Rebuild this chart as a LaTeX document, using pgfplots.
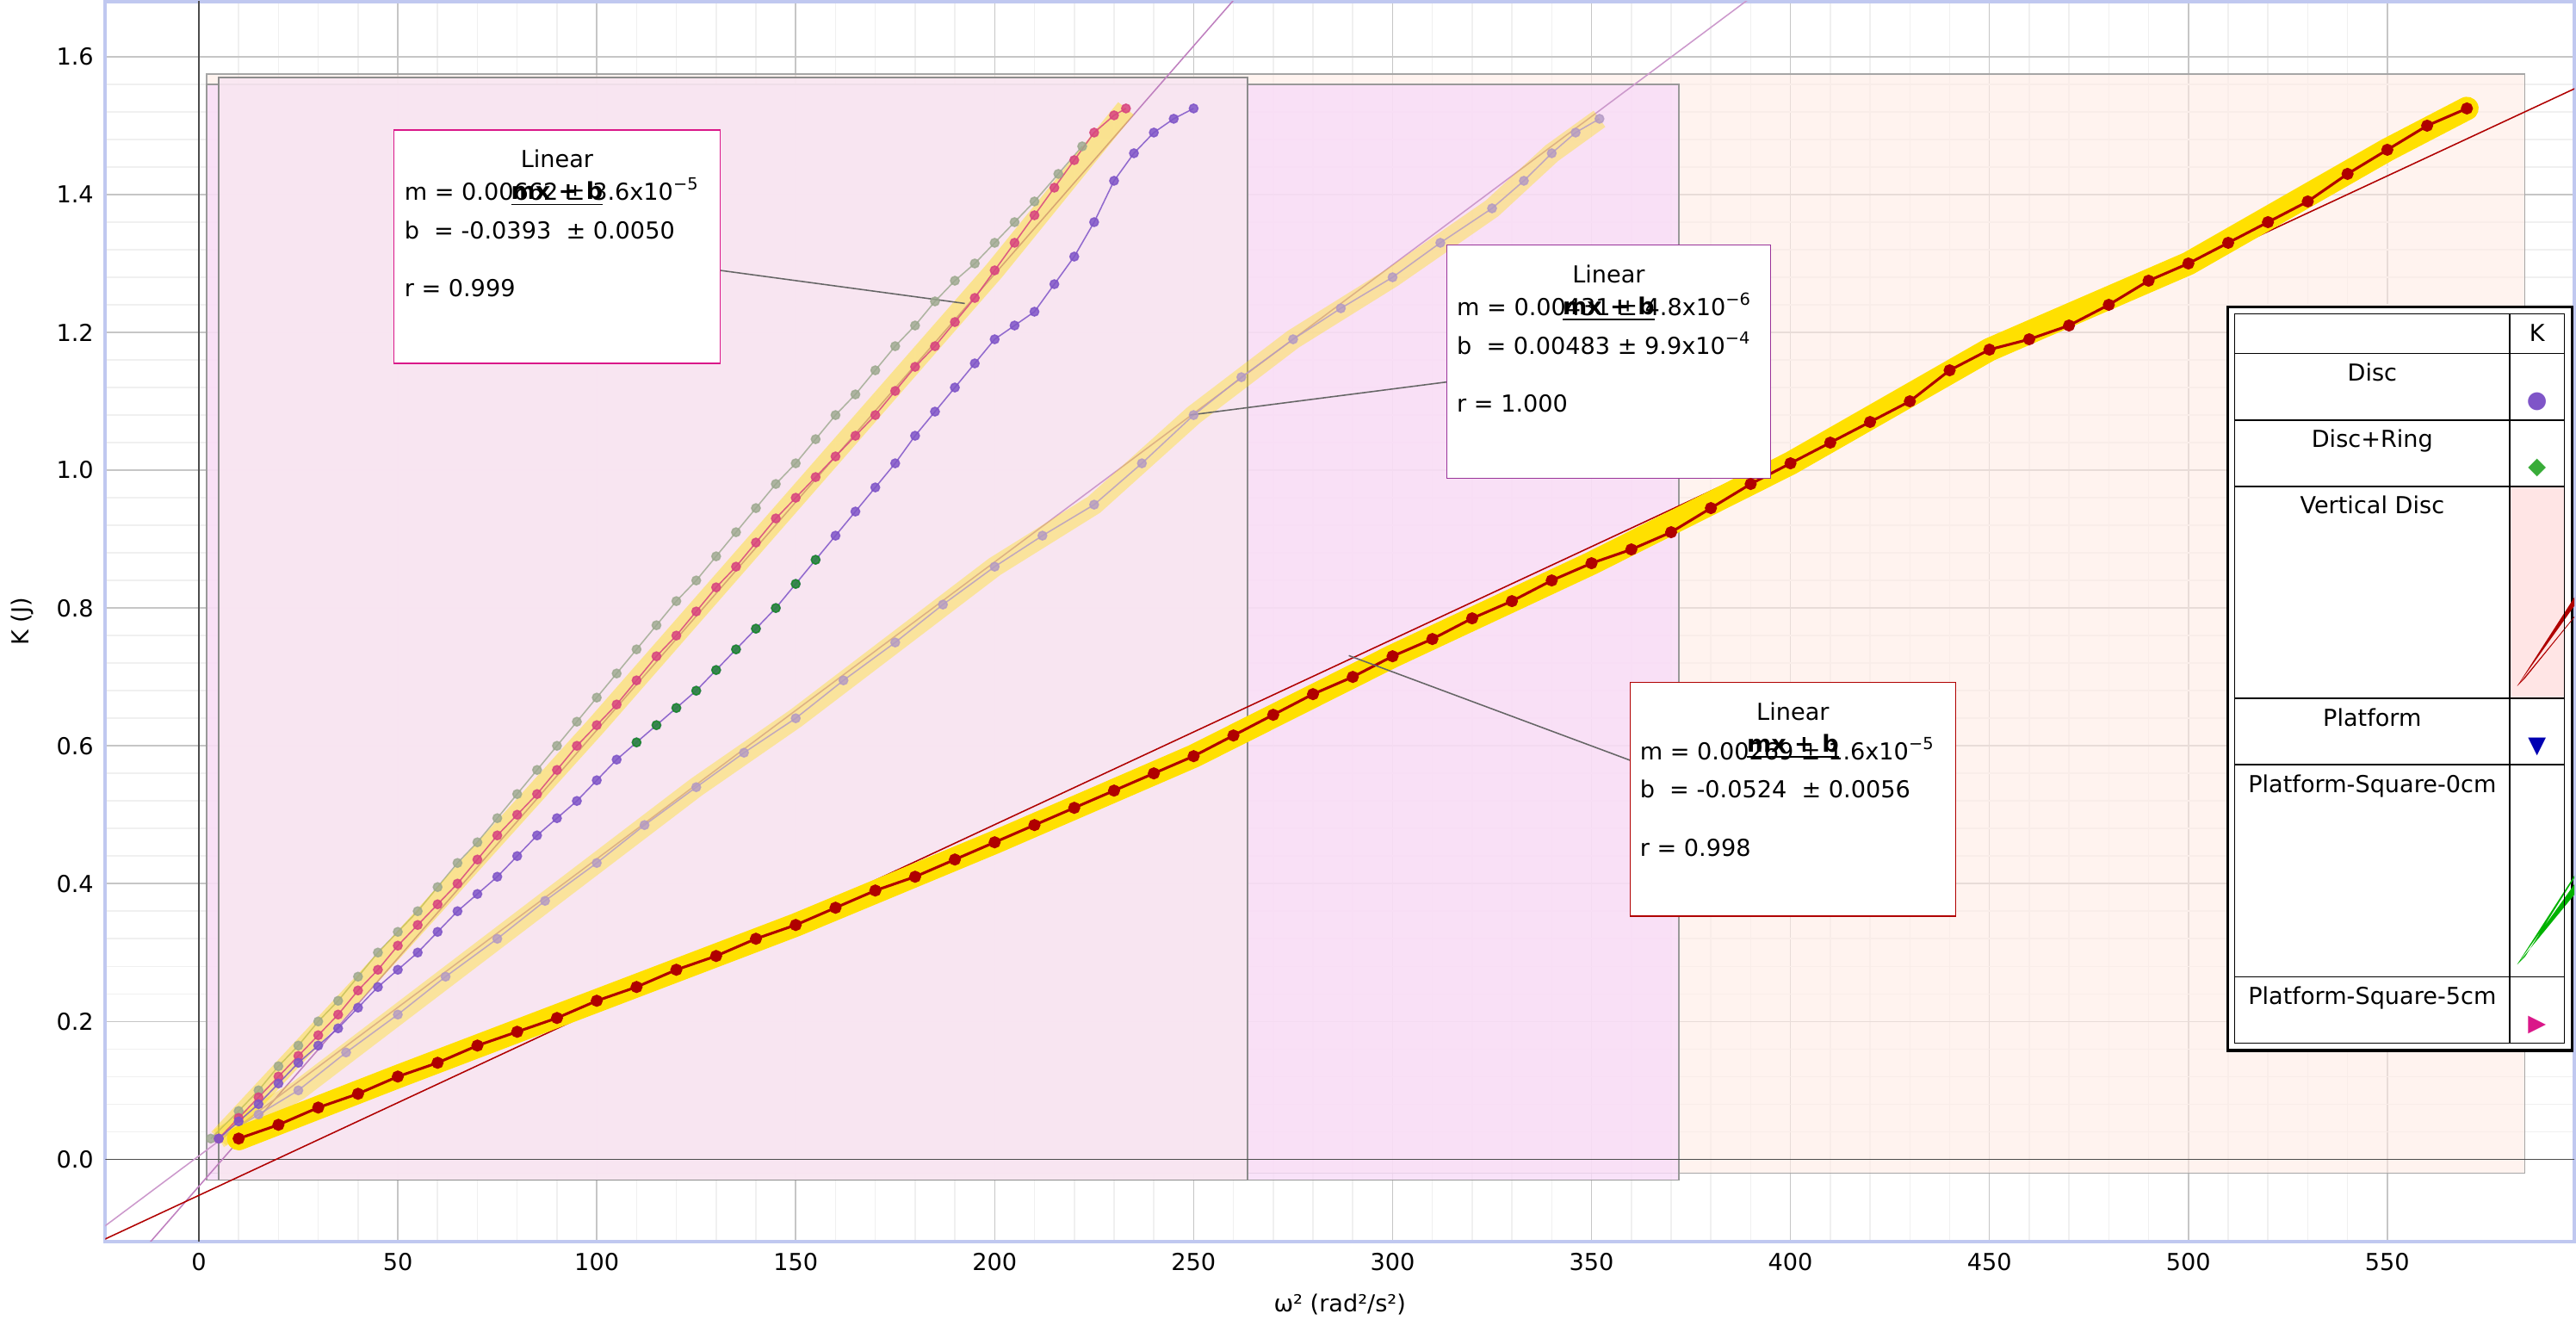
\documentclass[border=0pt]{standalone}
\usepackage{pgfplots}
\pgfplotsset{compat=1.18}
\usepackage{fontspec}
\setmainfont{DejaVu Sans}
\usepackage{array}
\usepackage{colortbl}
\definecolor{vd}{HTML}{B00000}
\definecolor{pu}{HTML}{7F55C8}
\definecolor{gg}{HTML}{9CA88E}
\definecolor{pk}{HTML}{D8457F}
\definecolor{lv}{HTML}{B39AC4}
\definecolor{hal}{HTML}{FFE000}
\definecolor{ab}{HTML}{C0C8F0}
\begin{document}
\begin{tikzpicture}[font=\fontsize{7}{8.5}\selectfont]
\begin{axis}[scale only axis, width=740pt, height=371.5pt,
 xmin=-23.5, xmax=597, ymin=-0.119, ymax=1.68,
 xtick={0,50,...,550}, ytick={0,0.2,...,1.6},
 yticklabel style={/pgf/number format/fixed,/pgf/number format/fixed zerofill,/pgf/number format/precision=1},
 /pgf/number format/assume math mode=true,
 minor x tick num=4, minor y tick num=4,
 grid=both, major grid style={gray!45}, minor grid style={gray!12},
 axis line style={ab, line width=1pt}, tick style={draw=none},
 xlabel={ω² (rad²/s²)}, ylabel={K (J)},
 clip=true]
% shaded regions
\fill[orange!40!red!10, opacity=0.6] (axis cs:2,-0.02) rectangle (axis cs:584.5,1.575);
\draw[gray!70] (axis cs:2,-0.02) rectangle (axis cs:584.5,1.575);
\fill[violet!40!magenta!14, opacity=0.8] (axis cs:2,-0.03) rectangle (axis cs:372,1.56);
\draw[gray!80] (axis cs:2,-0.03) rectangle (axis cs:372,1.56);
\fill[magenta!60!violet!10, opacity=0.9] (axis cs:5,-0.03) rectangle (axis cs:263.5,1.57);
\draw[gray!90] (axis cs:5,-0.03) rectangle (axis cs:263.5,1.57);
\draw[black!70] (axis cs:0,-0.2) -- (axis cs:0,1.8);
\draw[black!70] (axis cs:-30,0) -- (axis cs:600,0);
% fit lines
\addplot[violet!50, thin, domain=-30:300, samples=2] {0.00662*x-0.0393};
\addplot[violet!40, thin, domain=-30:400, samples=2] {0.00431*x+0.00483};
\addplot[vd, thin, domain=-30:600, samples=2] {0.00269*x-0.0524};
% lavender series
\addplot[hal, opacity=0.35, line width=6pt] coordinates {(5,.03)(25,.10)(50,.21)(75,.32)(100,.43)(125,.54)(150,.64)(175,.75)(200,.86)(225,.95)(250,1.08)(275,1.19)(300,1.28)(325,1.38)(340,1.46)(352,1.51)};
\addplot[lv, mark=*, mark size=1.3pt, opacity=0.8] coordinates {(5,.03)(15,.065)(25,.10)(37,.155)(50,.21)(62,.265)(75,.32)(87,.375)(100,.43)(112,.485)(125,.54)(137,.59)(150,.64)(162,.695)(175,.75)(187,.805)(200,.86)(212,.905)(225,.95)(237,1.01)(250,1.08)(262,1.135)(275,1.19)(287,1.235)(300,1.28)(312,1.33)(325,1.38)(333,1.42)(340,1.46)(346,1.49)(352,1.51)};
% gray-green series
\addplot[gg, mark=*, mark size=1.3pt, opacity=0.8] coordinates {(3,.03)(10,.07)(15,.10)(20,.135)(25,.165)(30,.2)(35,.23)(40,.265)(45,.30)(50,.33)(55,.36)(60,.395)(65,.43)(70,.46)(75,.495)(80,.53)(85,.565)(90,.60)(95,.635)(100,.67)(105,.705)(110,.74)(115,.775)(120,.81)(125,.84)(130,.875)(135,.91)(140,.945)(145,.98)(150,1.01)(155,1.045)(160,1.08)(165,1.11)(170,1.145)(175,1.18)(180,1.21)(185,1.245)(190,1.275)(195,1.30)(200,1.33)(205,1.36)(210,1.39)(216,1.43)(222,1.47)};
% pink series
\addplot[hal, opacity=0.4, line width=6pt] coordinates {(5,.03)(50,.31)(100,.63)(150,.96)(200,1.29)(233,1.525)};
\addplot[pk, mark=*, mark size=1.3pt, opacity=0.85] coordinates {(5,.03)(10,.06)(15,.09)(20,.12)(25,.15)(30,.18)(35,.21)(40,.245)(45,.275)(50,.31)(55,.34)(60,.37)(65,.40)(70,.435)(75,.47)(80,.50)(85,.53)(90,.565)(95,.60)(100,.63)(105,.66)(110,.695)(115,.73)(120,.76)(125,.795)(130,.83)(135,.86)(140,.895)(145,.93)(150,.96)(155,.99)(160,1.02)(165,1.05)(170,1.08)(175,1.115)(180,1.15)(185,1.18)(190,1.215)(195,1.25)(200,1.29)(205,1.33)(210,1.37)(215,1.41)(220,1.45)(225,1.49)(230,1.515)(233,1.525)};
% Disc purple
\addplot[pu, mark=*, mark size=1.3pt, opacity=0.85] coordinates {(5,.03)(10,.055)(15,.08)(20,.11)(25,.14)(30,.165)(35,.19)(40,.22)(45,.25)(50,.275)(55,.30)(60,.33)(65,.36)(70,.385)(75,.41)(80,.44)(85,.47)(90,.495)(95,.52)(100,.55)(105,.58)(110,.605)(115,.63)(120,.655)(125,.68)(130,.71)(135,.74)(140,.77)(145,.80)(150,.835)(155,.87)(160,.905)(165,.94)(170,.975)(175,1.01)(180,1.05)(185,1.085)(190,1.12)(195,1.155)(200,1.19)(205,1.21)(210,1.23)(215,1.27)(220,1.31)(225,1.36)(230,1.42)(235,1.46)(240,1.49)(245,1.51)(250,1.525)};
% green 0cm segment
\addplot[green!60!black, mark=*, mark size=1.3pt, opacity=0.6, only marks] coordinates {(110,.605)(115,.63)(120,.655)(125,.68)(130,.71)(135,.74)(140,.77)(145,.80)(150,.835)(155,.87)};
% Vertical Disc
\addplot[hal, line width=7pt, line join=round, line cap=round] coordinates {(10,.03)(50,.12)(100,.23)(150,.34)(200,.46)(250,.585)(300,.73)(350,.865)(400,1.01)(450,1.175)(500,1.30)(550,1.465)(570,1.525)};
\addplot[vd, line width=0.8pt, mark=*, mark size=1.4pt] coordinates {(10,.03)(20,.05)(30,.075)(40,.095)(50,.12)(60,.14)(70,.165)(80,.185)(90,.205)(100,.23)(110,.25)(120,.275)(130,.295)(140,.32)(150,.34)(160,.365)(170,.39)(180,.41)(190,.435)(200,.46)(210,.485)(220,.51)(230,.535)(240,.56)(250,.585)(260,.615)(270,.645)(280,.675)(290,.70)(300,.73)(310,.755)(320,.785)(330,.81)(340,.84)(350,.865)(360,.885)(370,.91)(380,.945)(390,.98)(400,1.01)(410,1.04)(420,1.07)(430,1.10)(440,1.145)(450,1.175)(460,1.19)(470,1.21)(480,1.24)(490,1.275)(500,1.30)(510,1.33)(520,1.36)(530,1.39)(540,1.43)(550,1.465)(560,1.50)(570,1.525)};
% annotation boxes
\draw[gray!80!black] (axis cs:131,1.29) -- (axis cs:192.5,1.242);
\draw[gray!80!black] (axis cs:313.6,1.128) -- (axis cs:249,1.08);
\draw[gray!80!black] (axis cs:359.7,0.579) -- (axis cs:289,0.731);
\draw[magenta!80!violet, fill=white] (axis cs:49,1.494) rectangle (axis cs:131,1.155);
\node[anchor=north, align=center] at (axis cs:90,1.482) {Linear\\[1pt]\underline{\textbf{mx + b}}};
\node[anchor=north west, align=left, inner sep=0pt] at (axis cs:51.5,1.425) {m = 0.00662 ± 3.6x10\textsuperscript{−5}\\[3pt]b\ \ = -0.0393\ \ ± 0.0050\\[9pt]r = 0.999};
\draw[violet!80, fill=white] (axis cs:313.6,1.327) rectangle (axis cs:395,0.988);
\node[anchor=north, align=center] at (axis cs:354.3,1.315) {Linear\\[1pt]\underline{\textbf{mx + b}}};
\node[anchor=north west, align=left, inner sep=0pt] at (axis cs:316,1.258) {m = 0.00431 ± 4.8x10\textsuperscript{−6}\\[3pt]b\ \ = 0.00483 ± 9.9x10\textsuperscript{−4}\\[9pt]r = 1.000};
\draw[vd, fill=white] (axis cs:359.7,0.692) rectangle (axis cs:441.5,0.353);
\node[anchor=north, align=center] at (axis cs:400.6,0.68) {Linear\\[1pt]\underline{\textbf{mx + b}}};
\node[anchor=north west, align=left, inner sep=0pt] at (axis cs:362,0.613) {m = 0.00269 ± 1.6x10\textsuperscript{−5}\\[3pt]b\ \ = -0.0524\ \ ± 0.0056\\[9pt]r = 0.998};
% legend
\node[anchor=north east, draw=black, fill=white, line width=0.8pt, inner sep=2pt] at (rel axis cs:0.9995,0.755) {%
\renewcommand{\arraystretch}{1.35}\setlength{\tabcolsep}{2pt}%
\begin{tabular}{|>{\centering\arraybackslash}p{78pt}|>{\centering\arraybackslash}p{12pt}|}
\hline
 & K\\ \hline
Disc & {\color{pu}●}\\ \hline
Disc+Ring & {\color{green!50!gray!90!black}◆}\\ \hline
Vertical Disc & \cellcolor{red!10}{\color{vd}\tikz\fill (0,0)--(0,5pt)--(2.5pt,2.5pt)--(5pt,5pt)--(5pt,0)--(2.5pt,2.5pt)--cycle;}\\ \hline
Platform & {\color{blue!70!black}▼}\\ \hline
Platform-Square-0cm & {\color{green!70!black}\tikz\fill (0,0)--(5pt,0)--(2.5pt,2.5pt)--(5pt,5pt)--(0,5pt)--(2.5pt,2.5pt)--cycle;}\\ \hline
Platform-Square-5cm & {\color{magenta!80!violet}▶}\\ \hline
\end{tabular}};
\end{axis}
\end{tikzpicture}
\end{document}
